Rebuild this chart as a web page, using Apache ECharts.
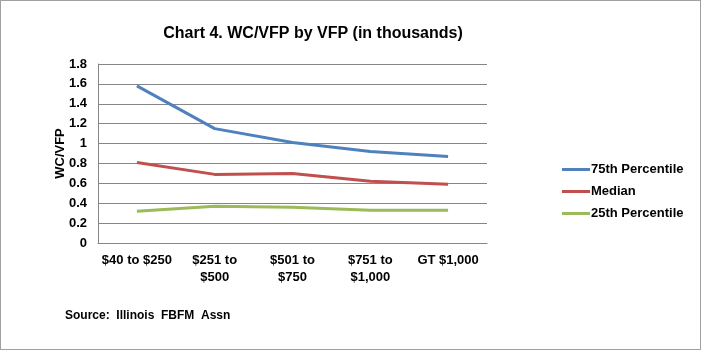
<!DOCTYPE html>
<html>
<head>
<meta charset="utf-8">
<script src="https://cdn.jsdelivr.net/npm/echarts@6/dist/echarts.min.js"></script>
<style>
html, body { margin: 0; padding: 0; background: #fff; }
#chart { width: 699px; height: 348px; border: 1px solid #a0a0a0; }
</style>
</head>
<body>
<div id="chart"></div>
<script>
var categories = ['$40 to $250', '$251 to\n$500', '$501 to\n$750', '$751 to\n$1,000', 'GT $1,000']
var p75 = [1.58, 1.15, 1.01, 0.92, 0.87]
var median = [0.81, 0.69, 0.70, 0.62, 0.59]
var p25 = [0.32, 0.37, 0.36, 0.33, 0.33]

var myChart = echarts.init(document.getElementById('chart'));
var font = 'Liberation Sans, Arial, sans-serif';

var option = {
	animation: false,
	title: [{
		text: 'Chart 4. WC/VFP by VFP (in thousands)',
		left: 307,
		top: 20,
		textAlign: 'center',
		textStyle: { fontFamily: font, fontSize: 16, fontWeight: 'bold', color: '#000' }
	}, {
		text: 'Source:  Illinois  FBFM  Assn',
		left: 59,
		top: 304,
		textStyle: { fontFamily: font, fontSize: 12, fontWeight: 'bold', color: '#000' }
	}],
	grid: { left: 97, right: 213, top: 63, bottom: 106 },
	legend: {
		orient: 'vertical',
		left: 556,
		top: 157,
		itemWidth: 28,
		itemHeight: 3,
		itemGap: 9,
		icon: 'rect',
		textStyle: { fontFamily: font, fontSize: 13, fontWeight: 'bold', color: '#000', padding: [0, 0, 0, -4] },
		data: ['75th Percentile', 'Median', '25th Percentile']
	},
	xAxis: {
		type: 'category',
		data: categories,
		axisLine: { lineStyle: { color: '#868686' } },
		axisTick: { show: false },
		axisLabel: { fontFamily: font, fontSize: 13, fontWeight: 'bold', color: '#000', interval: 0, margin: 9, lineHeight: 17 }
	},
	yAxis: {
		type: 'value',
		min: 0,
		max: 1.8,
		interval: 0.2,
		name: 'WC/VFP',
		nameLocation: 'middle',
		nameGap: 31,
		nameMoveOverlap: false,
		nameTextStyle: { fontFamily: font, fontSize: 13, fontWeight: 'bold', color: '#000' },
		axisLine: { show: true, lineStyle: { color: '#868686' } },
		axisLabel: {
			fontFamily: font, fontSize: 13, fontWeight: 'bold', color: '#000', margin: 11,
			formatter: function (v) { return Math.round(v * 10) / 10 + ''; }
		},
		splitLine: { lineStyle: { color: '#868686' } }
	},
	series: [{
		name: '75th Percentile', type: 'line', data: p75, symbol: 'none',
		lineStyle: { width: 3, color: '#4F81BD' }, itemStyle: { color: '#4F81BD' }
	}, {
		name: 'Median', type: 'line', data: median, symbol: 'none',
		lineStyle: { width: 3, color: '#C0504D' }, itemStyle: { color: '#C0504D' }
	}, {
		name: '25th Percentile', type: 'line', data: p25, symbol: 'none',
		lineStyle: { width: 3, color: '#9BBB59' }, itemStyle: { color: '#9BBB59' }
	}]
};
myChart.setOption(option);
</script>
</body>
</html>
